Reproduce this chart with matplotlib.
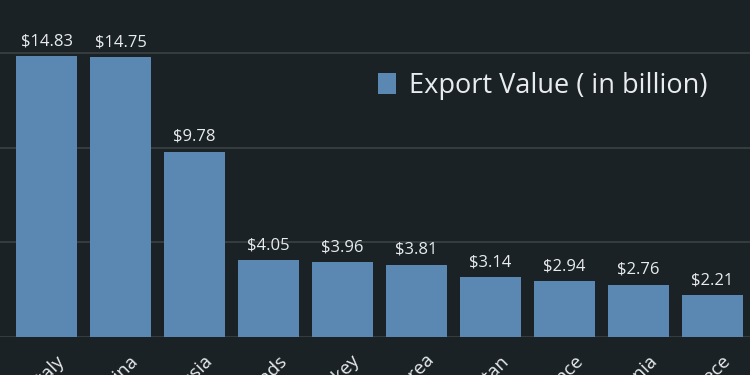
import matplotlib
matplotlib.use("Agg")
import matplotlib.pyplot as plt
import matplotlib.transforms as mtransforms
from matplotlib.patches import Patch

countries = ["Italy", "China", "Russia", "Netherlands", "Turkey", "South Korea",
             "Pakistan", "France", "Romania", "Greece"]
values = [14.83, 14.75, 9.78, 4.05, 3.96, 3.81, 3.14, 2.94, 2.76, 2.21]
value_labels = ["$14.83", "$14.75", "$9.78", "$4.05", "$3.96", "$3.81",
                "$3.14", "$2.94", "$2.76", "$2.21"]
series_name = "Export Value ( in billion)"

bg = "#1b2225"
bar_color = "#5b87b3"
grid_color = "#3a4244"
text_color = "#e8ecee"

plt.rcParams["font.family"] = ["Open Sans", "DejaVu Sans"]

fig = plt.figure(figsize=(7.5, 3.75), dpi=100, facecolor=bg)
ax = fig.add_axes([0, 38 / 375, 1, 337 / 375])
ax.set_facecolor(bg)

x = list(range(len(values)))
bars = ax.bar(x, values, width=0.82, color=bar_color, zorder=3)

ax.set_xlim(-46.5 / 74, (750 - 46.5) / 74)
ax.set_ylim(0, 337 / 18.95)
ax.set_yticks([0, 5, 10, 15])
ax.yaxis.grid(True, color=grid_color, linewidth=1.2, zorder=0)
ax.tick_params(axis="y", length=0, labelleft=False)
ax.tick_params(axis="x", length=0, pad=10.5)
ax.set_xticks(x)
ax.set_xticklabels(countries, rotation=45, ha="right", rotation_mode="anchor",
                   color=text_color, fontsize=13.5)
offset = mtransforms.ScaledTranslation(9 / 100, 0, fig.dpi_scale_trans)
for lab in ax.get_xticklabels():
    lab.set_transform(lab.get_transform() + offset)
for s in ax.spines.values():
    s.set_visible(False)

for b, lab in zip(bars, value_labels):
    ax.annotate(lab, (b.get_x() + b.get_width() / 2, b.get_height()),
                xytext=(0, 5), textcoords="offset points", ha="center", va="bottom",
                color=text_color, fontsize=12)

leg = ax.legend(handles=[Patch(facecolor=bar_color, label=series_name)],
                loc="center left", bbox_to_anchor=(378 / 750, 1 - 86 / 337),
                frameon=False, fontsize=19.5, handlelength=0.66, handleheight=0.8,
                handletextpad=0.5, borderpad=0, borderaxespad=0,
                labelcolor=text_color)

fig.savefig("out.png", dpi=100, facecolor=bg)
